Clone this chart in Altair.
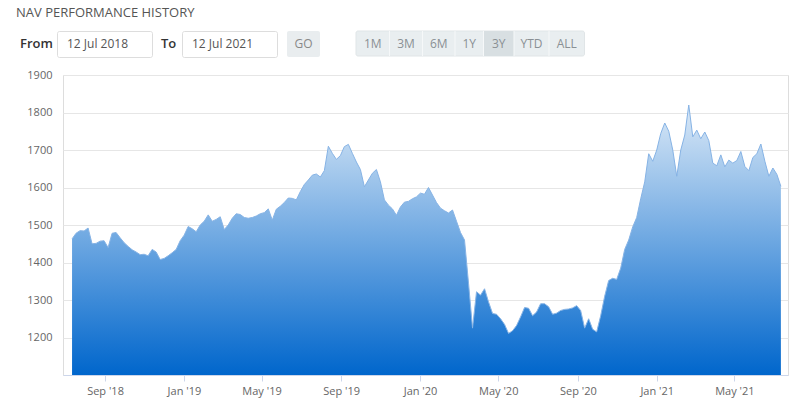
import altair as alt
import pandas as pd

# ---- data ----
start_date = "2018-07-12"
end_date = "2021-07-12"
nav_values = [
    1463, 1478, 1485, 1484, 1492, 1450, 1451, 1457, 1458, 1440,
    1478, 1480, 1466, 1453, 1443, 1434, 1428, 1421, 1422, 1418,
    1435, 1428, 1408, 1411, 1418, 1426, 1435, 1458, 1473, 1496,
    1490, 1482, 1500, 1510, 1527, 1510, 1515, 1522, 1488, 1500,
    1518, 1530, 1528, 1520, 1518, 1520, 1524, 1530, 1533, 1543,
    1513, 1542, 1550, 1560, 1572, 1571, 1567, 1589, 1608, 1620,
    1633, 1636, 1628, 1645, 1710, 1691, 1675, 1685, 1709, 1715,
    1691, 1668, 1648, 1602, 1620, 1638, 1648, 1615, 1567, 1553,
    1543, 1526, 1548, 1561, 1563, 1570, 1575, 1585, 1582, 1600,
    1580, 1560, 1545, 1538, 1532, 1540, 1510, 1480, 1460, 1345,
    1225, 1322, 1313, 1330, 1295, 1264, 1262, 1250, 1235, 1211,
    1218, 1232, 1255, 1280, 1278, 1258, 1268, 1290, 1290, 1282,
    1262, 1265, 1272, 1275, 1276, 1279, 1285, 1272, 1225, 1250,
    1222, 1215, 1258, 1310, 1352, 1358, 1355, 1385, 1435, 1460,
    1495, 1520, 1570, 1615, 1690, 1670, 1700, 1744, 1772, 1750,
    1700, 1630, 1700, 1740, 1820, 1735, 1753, 1730, 1748, 1725,
    1665, 1658, 1687, 1655, 1673, 1665, 1672, 1696, 1656, 1645,
    1680, 1690, 1716, 1670, 1630, 1652, 1635, 1603,
]
y_ticks = [1200, 1300, 1400, 1500, 1600, 1700, 1800, 1900]
y_domain = [1100, 1900]
x_tick_dates = [(2018, 9), (2019, 1), (2019, 5), (2019, 9), (2020, 1),
                (2020, 5), (2020, 9), (2021, 1), (2021, 5)]
x_domain = [(2018, 6, 28), (2021, 7, 23)]
title_text = "NAV PERFORMANCE HISTORY"
from_label, to_label = "From", "To"
from_value, to_value = "12 Jul 2018", "12 Jul 2021"
go_label = "GO"
range_buttons = ["1M", "3M", "6M", "1Y", "3Y", "YTD", "ALL"]
selected_button = "3Y"

dates = pd.date_range(start_date, end_date, periods=len(nav_values))
df = pd.DataFrame({"date": dates, "nav": nav_values})

FONT = "Open Sans"
OX, OY = 63, 75  # plot origin in page pixels

xscale = alt.Scale(domain=[alt.DateTime(year=y, month=m, date=d) for y, m, d in x_domain])
yscale = alt.Scale(domain=y_domain, zero=False)

base = alt.Chart(df)

area = base.mark_area(
    color=alt.Gradient(
        gradient="linear",
        stops=[alt.GradientStop(color="#dbe9f7", offset=0),
               alt.GradientStop(color="#0066cc", offset=1)],
        x1=1, x2=1, y1=0, y2=1,
    ),
    interpolate="linear",
).encode(
    x=alt.X("date:T", scale=xscale, title=None,
            axis=alt.Axis(values=[alt.DateTime(year=y, month=m, date=1) for y, m in x_tick_dates],
                          format="%b '%y", grid=False, domain=True, domainColor="#ccd6eb",
                          ticks=True, tickColor="#ccd6eb", tickSize=6, labelPadding=4,
                          labelColor="#666666", labelFontSize=11, labelFont=FONT)),
    y=alt.Y("nav:Q", scale=yscale, title=None,
            axis=alt.Axis(values=y_ticks, format="d", grid=True, gridColor="#e6e6e6", domain=False,
                          ticks=False, tickSize=0, labelPadding=11,
                          labelColor="#666666", labelFontSize=11, labelFont=FONT)),
    y2=alt.datum(1100),
)

line = base.mark_line(color="#86b3e5", strokeWidth=1).encode(
    x=alt.X("date:T", scale=xscale),
    y=alt.Y("nav:Q", scale=yscale),
)

dummy = pd.DataFrame({"k": [0]})


def rect(x0, x1, y0, y1, fill, stroke=None, radius=0):
    kw = dict(fill=fill, cornerRadius=radius)
    if stroke:
        kw.update(stroke=stroke, strokeWidth=1)
    return alt.Chart(dummy).mark_rect(**kw).encode(
        x=alt.value(x0 - OX), x2=alt.value(x1 - OX),
        y=alt.value(y0 - OY), y2=alt.value(y1 - OY))


def text(x, y, s, size=12, color="#555555", align="left", weight="normal"):
    return alt.Chart(dummy).mark_text(
        align=align, baseline="middle", fontSize=size, font=FONT,
        color=color, fontWeight=weight,
    ).encode(x=alt.value(x - OX), y=alt.value(y - OY), text=alt.value(s))


deco = [
    text(16, 13, title_text, size=13, color="#555555"),
    text(20, 44, from_label, size=13, color="#333333", weight=600),
    rect(57.5, 152.5, 31.5, 57.5, "#ffffff", "#dddddd", 2),
    text(67, 44, from_value, size=12, color="#555555"),
    text(161, 44, to_label, size=13, color="#333333", weight=600),
    rect(182.5, 277.5, 31.5, 57.5, "#ffffff", "#dddddd", 2),
    text(192, 44, to_value, size=12, color="#555555"),
    rect(287, 320, 31, 57, "#e9edef", None, 2),
    text(303.5, 44, go_label, size=12, color="#888888", align="center"),
]

edges = [356, 389.5, 422.5, 455, 483.5, 514, 549, 584.5]
deco.append(rect(356, 584.5, 31, 56, "#e9eef0", "#e0e5e7", 2))
for i, lab in enumerate(range_buttons):
    x0, x1 = edges[i], edges[i + 1]
    if lab == selected_button:
        deco.append(rect(x0, x1, 31, 56, "#d8dfe2"))
    if i > 0:
        deco.append(alt.Chart(dummy).mark_rule(color="#f6f8f9", strokeWidth=1).encode(
            x=alt.value(x0 - OX), y=alt.value(31 - OY), y2=alt.value(56 - OY)))
    deco.append(text((x0 + x1) / 2, 43.5, lab, size=12, color="#8a9094", align="center"))

chart = alt.layer(area, line, *deco).properties(
    width=725, height=300,
    autosize=alt.AutoSizeParams(type="none"),
    padding={"left": OX, "top": OY, "right": 12, "bottom": 39},
).configure_view(strokeWidth=0).configure(background="#ffffff")

chart.save("out.html", embed_options={"renderer": "svg", "actions": False})
